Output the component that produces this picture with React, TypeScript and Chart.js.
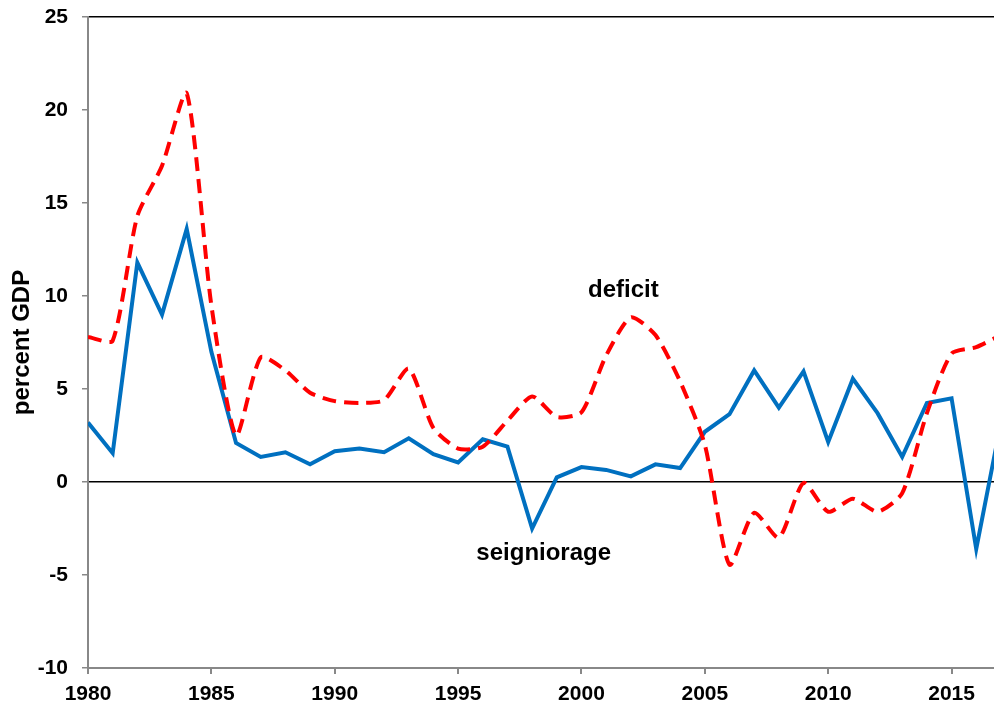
import React, { useEffect, useRef } from 'react';
import { Chart, registerables } from 'chart.js';

Chart.register(...registerables);

// ---- data ----
const years: number[] = [
  1980, 1981, 1982, 1983, 1984, 1985, 1986, 1987, 1988, 1989,
  1990, 1991, 1992, 1993, 1994, 1995, 1996, 1997, 1998, 1999,
  2000, 2001, 2002, 2003, 2004, 2005, 2006, 2007, 2008, 2009,
  2010, 2011, 2012, 2013, 2014, 2015, 2016, 2017,
];

const seigniorage: number[] = [
  3.2, 1.55, 11.8, 9.0, 13.6, 7.0, 2.1, 1.35, 1.6, 0.95,
  1.65, 1.8, 1.6, 2.35, 1.5, 1.05, 2.3, 1.9, -2.5, 0.25,
  0.8, 0.65, 0.3, 0.95, 0.75, 2.7, 3.65, 6.0, 4.0, 5.95,
  2.15, 5.55, 3.7, 1.35, 4.25, 4.5, -3.6, 3.2,
];

const deficit: number[] = [
  7.8, 7.6, 14.3, 17.0, 20.9, 9.5, 2.5, 6.7, 6.0, 4.8,
  4.35, 4.25, 4.4, 6.1, 2.9, 1.8, 1.9, 3.3, 4.6, 3.5,
  3.75, 6.8, 8.85, 7.9, 5.4, 2.0, -4.45, -1.65, -3.0, -0.05,
  -1.6, -0.9, -1.6, -0.6, 3.7, 6.9, 7.25, 7.9,
];

const yTicks = { min: -10, max: 25, step: 5 };
const xRange = { min: 1980, max: 2016.72, step: 5 };
const yTitle = 'percent GDP';

const annotationTexts = ['deficit', 'seigniorage'];
const annotationYears = [2001.7, 1998.47];
const annotationValues = [9.95, -4.2];

const FONT = '"Liberation Sans", Arial, Helvetica, sans-serif';

const textPlugin = {
  id: 'seriesLabels',
  afterDatasetsDraw(chart: any) {
    const { ctx, scales } = chart;
    ctx.save();
    ctx.font = `bold 24px ${FONT}`;
    ctx.fillStyle = '#000';
    ctx.textAlign = 'center';
    ctx.textBaseline = 'alphabetic';
    annotationTexts.forEach((t, i) => {
      ctx.fillText(
        t,
        scales.x.getPixelForValue(annotationYears[i]),
        scales.y.getPixelForValue(annotationValues[i])
      );
    });
    ctx.restore();
  },
};

export default function App() {
  const canvasRef = useRef<HTMLCanvasElement | null>(null);

  useEffect(() => {
    const canvas = canvasRef.current;
    if (!canvas) return;
    const chart = new Chart(canvas, {
      type: 'line',
      data: {
        datasets: [
          {
            label: 'deficit',
            data: years.map((yr, i) => ({ x: yr, y: deficit[i] })),
            borderColor: '#FF0000',
            borderWidth: 4,
            borderDash: [14, 8],
            pointRadius: 0,
            tension: 0.22,
            fill: false,
            order: 0,
          },
          {
            label: 'seigniorage',
            data: years.map((yr, i) => ({ x: yr, y: seigniorage[i] })),
            borderColor: '#0070C0',
            borderWidth: 4,
            pointRadius: 0,
            tension: 0,
            fill: false,
            order: 1,
          },
        ],
      },
      options: {
        responsive: false,
        animation: false,
        events: [],
        layout: { padding: { top: 17, right: 0, left: 0, bottom: 0 } },
        plugins: {
          legend: { display: false },
          tooltip: { enabled: false },
          title: { display: false },
        },
        scales: {
          x: {
            type: 'linear',
            min: xRange.min,
            max: xRange.max,
            ticks: {
              stepSize: xRange.step,
              includeBounds: false,
              autoSkip: false,
              maxRotation: 0,
              color: '#000',
              padding: 8,
              font: { family: FONT, size: 21, weight: 'bold' },
              callback: (v: any) => String(v),
            },
            grid: {
              drawOnChartArea: false,
              tickLength: 6,
              tickColor: '#888888',
              lineWidth: 2,
            },
            border: { color: '#888888', width: 2 },
            afterFit: (s: any) => {
              s.height = 38;
              s.paddingLeft = 0;
              s.paddingRight = 0;
            },
          },
          y: {
            type: 'linear',
            min: yTicks.min,
            max: yTicks.max,
            ticks: {
              stepSize: yTicks.step,
              color: '#000',
              padding: 14,
              font: { family: FONT, size: 21, weight: 'bold' },
            },
            grid: {
              color: (c: any) =>
                c.tick && (c.tick.value === 0 || c.tick.value === yTicks.max)
                  ? '#000000'
                  : 'rgba(0,0,0,0)',
              tickColor: '#888888',
              tickLength: 6,
              lineWidth: 1.5,
            },
            border: { color: '#888888', width: 2 },
            title: {
              display: true,
              text: yTitle,
              color: '#000',
              font: { family: FONT, size: 24, weight: 'bold' },
              padding: { top: 8, bottom: 0 },
            },
            afterFit: (s: any) => {
              s.width = 88;
              s.paddingTop = 0;
              s.paddingBottom = 0;
            },
          },
        },
      },
      plugins: [textPlugin],
    });
    return () => chart.destroy();
  }, []);

  return (
    <div style={{ position: 'fixed', left: 0, top: 0, width: 994, height: 706, background: '#fff' }}>
      <canvas ref={canvasRef} width={994} height={706} />
    </div>
  );
}
